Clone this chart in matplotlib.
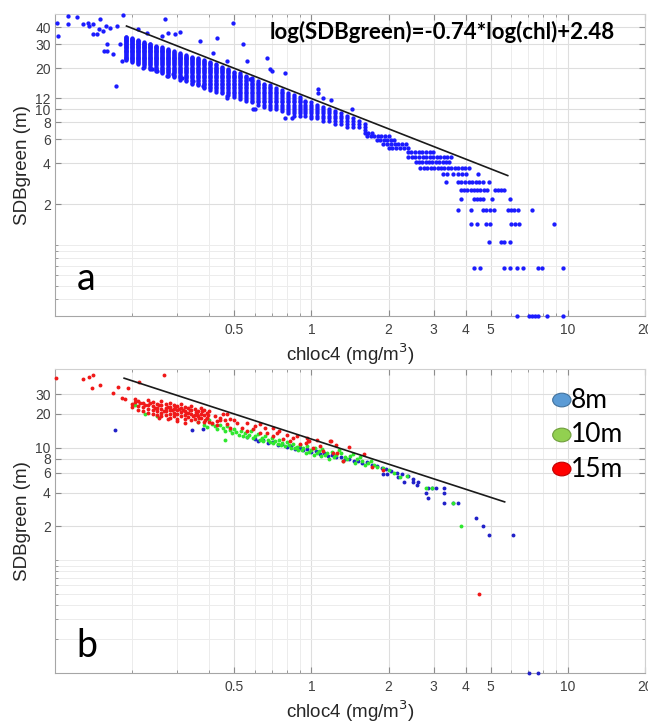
import matplotlib
matplotlib.use('Agg')
import matplotlib.pyplot as plt
from matplotlib.ticker import NullFormatter
from matplotlib.patches import Ellipse
import numpy as np

plt.rcParams['font.family'] = ['Liberation Sans', 'DejaVu Sans']

# fit shown in panel a: ln(SDB) = -0.74*ln(chl) + 2.48
fit_slope = -0.74
fit_icpt = 2.48
fit_chl_a = [0.19, 5.83]
fit_chl_b = [0.186, 5.67]

# ---------------- panel a data ----------------
# SDB values come in steps of about 0.375 m starting at 0.3 m
sdb_base = 0.3
sdb_step = 0.375

# dense part: chl columns with lowest/highest SDB seen in each column
band_chl = [0.190, 0.200, 0.211, 0.223, 0.235, 0.248, 0.262, 0.277, 0.292, 0.308,
            0.325, 0.343, 0.362, 0.382, 0.403, 0.425, 0.448, 0.473, 0.499, 0.526,
            0.555, 0.586, 0.618, 0.652, 0.688, 0.726, 0.766, 0.808, 0.852, 0.899,
            0.948, 1.000, 1.055, 1.113, 1.175, 1.240, 1.308, 1.380, 1.456, 1.536, 1.620]
band_hi = [34.4, 33.4, 32.4, 31.4, 30.4, 29.5, 28.6, 27.7, 26.9, 26.0,
           25.2, 24.5, 23.7, 23.0, 22.3, 21.4, 20.6, 19.8, 19.0, 18.3,
           17.6, 16.9, 16.2, 15.6, 15.0, 14.4, 13.9, 13.3, 12.8, 12.3,
           11.9, 11.5, 11.0, 10.6, 10.2, 9.8, 9.5, 9.1, 8.8, 8.4, 8.1]
band_lo = [22.6, 21.8, 21.0, 20.2, 19.6, 18.9, 18.2, 17.5, 16.9, 16.3,
           15.7, 15.2, 14.7, 14.1, 13.6, 13.2, 12.8, 12.4, 12.1, 11.7,
           11.3, 11.0, 10.6, 10.3, 10.0, 9.7, 9.4, 9.1, 8.9, 8.7,
           8.6, 8.4, 8.2, 8.1, 7.9, 7.8, 7.6, 7.4, 7.3, 7.1, 6.9]

# tail: runs of points on one SDB level (level, chl from, chl to)
row_sdb = [6.675, 6.3, 5.925, 5.55, 5.175, 4.8, 4.425, 4.05, 3.675, 3.3, 3.3,
           2.925, 2.925, 2.55, 2.55, 2.55, 2.175, 1.8, 1.8, 1.425, 1.425, 1.05, 0.675, 0.3]
row_chl_from = [1.62, 1.65, 1.80, 1.91, 2.00, 2.37, 2.39, 2.55, 2.66, 3.25, 3.72,
                3.72, 4.10, 3.82, 4.29, 5.20, 4.29, 4.66, 5.83, 4.78, 5.99, 5.47, 7.63, 7.04]
row_chl_to = [1.72, 2.00, 2.10, 2.33, 2.37, 2.99, 3.49, 3.45, 4.10, 3.39, 4.00,
              3.96, 4.66, 4.18, 4.85, 5.47, 4.66, 5.14, 6.38, 4.96, 6.44, 5.62, 7.91, 7.63]
row_ratio = 1.032

# isolated points
a_chl = [3.55, 4.45, 3.34, 4.91, 5.62, 3.82, 5.05, 5.93, 3.72, 4.18, 7.23, 4.18, 4.41,
         8.82, 4.91, 5.93, 4.29, 4.53, 5.62, 5.93, 6.32, 6.67, 9.56, 6.32, 8.28, 9.56,
         0.102, 0.103, 0.112, 0.122, 0.112, 0.129, 0.135, 0.136, 0.141, 0.141, 0.146, 0.150,
         0.149, 0.154, 0.158, 0.164, 0.160, 0.155, 0.160, 0.169, 0.173, 0.175, 0.184, 0.180,
         0.183, 0.211, 0.229, 0.269, 0.276, 0.294, 0.308, 0.262, 0.221, 0.239, 0.250, 0.368,
         0.429, 0.496, 0.414, 0.470, 0.542, 0.562, 0.593, 0.604, 0.673, 0.692, 0.705, 0.791,
         0.791, 0.843, 0.578, 0.470, 0.470, 0.379, 0.346, 0.313, 0.289, 0.274, 1.065, 1.065,
         1.197, 1.446, 1.114]
a_sdb = [3.3, 3.3, 2.925, 2.925, 2.55, 2.175, 2.175, 2.175, 1.8, 1.8, 1.8, 1.425, 1.425,
         1.425, 1.05, 1.05, 0.675, 0.675, 0.675, 0.675, 0.675, 0.675, 0.675, 0.3, 0.3, 0.3,
         42.9, 34.4, 48.3, 47.4, 42.2, 42.2, 42.9, 40.8, 42.2, 35.6, 35.6, 45.9,
         38.8, 37.5, 40.8, 39.5, 30.0, 26.7, 26.7, 25.4, 14.8, 40.8, 49.1, 30.0,
         22.5, 38.8, 36.2, 45.9, 36.2, 35.6, 36.8, 34.4, 20.0, 19.7, 19.0, 31.6,
         33.3, 42.9, 25.8, 22.5, 30.0, 22.5, 10.0, 10.0, 23.7, 19.7, 19.0, 18.4,
         8.6, 8.6, 16.6, 12.5, 12.1, 14.8, 16.1, 16.9, 18.1, 17.5, 14.0, 13.1,
         11.6, 10.0, 12.1]

# ---------------- panel b data ----------------
red_chl = [0.101, 0.128, 0.136, 0.141, 0.139, 0.150, 0.168, 0.176, 0.188, 0.183, 0.193, 0.212, 0.266, 0.205,
           0.20, 0.20, 0.21, 0.21, 0.21, 0.22, 0.22, 0.22, 0.23, 0.23, 0.23, 0.23, 0.24, 0.24, 0.24, 0.24,
           0.25, 0.25, 0.25, 0.25, 0.26, 0.26, 0.26, 0.26, 0.26, 0.27, 0.27, 0.27, 0.27, 0.28, 0.28, 0.28,
           0.28, 0.28, 0.29, 0.29, 0.29, 0.29, 0.30, 0.30, 0.30, 0.30, 0.31, 0.31, 0.31, 0.31, 0.32, 0.32,
           0.32, 0.32, 0.33, 0.33, 0.33, 0.34, 0.34, 0.34, 0.34, 0.35, 0.35, 0.35, 0.36, 0.36, 0.36, 0.37,
           0.37, 0.37, 0.38, 0.38, 0.38, 0.39, 0.39,
           0.205, 0.215, 0.225, 0.235, 0.245, 0.255, 0.265, 0.275, 0.285, 0.295, 0.305, 0.315, 0.325,
           0.335, 0.345, 0.355, 0.365, 0.375, 0.385, 0.395, 0.40, 0.42, 0.44, 0.45, 0.46, 0.48, 0.40,
           0.43, 0.255, 0.275, 0.30, 0.32,
           0.359, 0.393, 0.411, 0.430, 0.441, 0.470, 0.483, 0.514, 0.538, 0.562, 0.594, 0.632, 0.673, 0.710,
           0.737, 0.777, 0.828, 0.906, 0.973, 1.018, 1.084, 1.114, 1.186, 1.263, 0.470, 0.632, 0.710, 0.850,
           0.965, 1.197, 1.219, 1.333, 1.73, 1.91, 0.50, 0.56, 0.60, 0.66, 0.75, 0.80, 0.88, 0.95, 1.05,
           1.25, 1.40, 1.60, 0.98, 4.49]
red_sdb = [41.7, 40.9, 42.6, 44.3, 34.1, 36.2, 30.8, 34.8, 27.3, 27.9, 34.1, 38.5, 44.3, 27.3,
           24.5, 22.8, 26.0, 23.5, 21.5, 25.0, 23.0, 21.2, 26.5, 24.0, 22.0, 20.5, 25.5, 23.5, 21.5, 20.0,
           24.5, 22.5, 21.0, 19.5, 25.8, 23.8, 22.0, 20.5, 19.0, 24.5, 22.5, 21.0, 19.5, 25.0, 23.0, 21.5,
           20.0, 18.5, 24.0, 22.0, 20.5, 19.0, 23.5, 21.5, 20.0, 18.0, 24.5, 22.5, 20.8, 19.2, 23.0, 21.2,
           19.6, 18.0, 22.5, 20.5, 18.8, 23.5, 21.8, 20.0, 17.5, 22.0, 19.5, 18.0, 21.0, 19.0, 17.0, 22.5,
           20.0, 18.2, 21.5, 19.5, 16.8, 20.5, 18.5,
           25.5, 24.8, 24.2, 25.2, 22.6, 23.8, 21.2, 23.2, 21.8, 23.0, 22.2, 21.6, 20.2,
           21.8, 19.0, 20.6, 18.4, 21.0, 17.8, 19.4, 21.0, 19.0, 18.5, 20.0, 17.5, 18.0, 17.0,
           16.0, 18.5, 18.0, 17.2, 16.5,
           19.8, 18.3, 16.5, 17.2, 17.8, 16.2, 14.9, 16.5, 14.9, 14.1, 14.7, 13.5, 13.5, 12.7,
           13.5, 12.0, 11.5, 10.8, 11.5, 10.0, 10.4, 9.4, 11.5, 9.0, 19.8, 16.2, 14.9, 12.2,
           12.2, 11.5, 9.0, 7.7, 6.7, 6.3, 17.8, 16.6, 15.5, 15.0, 14.2, 13.0, 12.8, 11.0, 11.8,
           10.6, 10.2, 8.8, 11.5, 0.5]

green_chl = [0.205, 0.224, 0.25, 0.462,
             0.36, 0.38, 0.40, 0.41, 0.42, 0.44, 0.45, 0.47, 0.48, 0.50, 0.51, 0.53, 0.55, 0.57, 0.58,
             0.60, 0.62, 0.64, 0.66, 0.68, 0.70, 0.72, 0.75, 0.77, 0.80, 0.82, 0.85, 0.88, 0.90, 0.93,
             0.96, 1.00, 1.03, 1.07, 1.10, 1.15, 1.20, 1.25, 1.30, 1.35, 1.42, 1.50, 1.58, 1.66, 1.75,
             1.90, 2.00, 0.46, 0.52, 0.56, 0.63, 0.69, 0.74, 0.79, 0.86, 0.92, 0.98, 1.05, 1.13, 1.22,
             1.28, 1.38, 1.45, 1.55, 1.70, 1.80, 2.10, 2.35, 2.21, 2.81, 2.94, 3.55, 3.82,
             0.39, 0.43, 0.49, 0.54, 0.59, 0.65, 0.71, 0.76, 0.83, 0.89, 0.95, 1.02, 1.09, 1.17,
             1.33, 1.48, 1.62]
green_sdb = [24.2, 19.8, 19.0, 11.7,
             17.0, 16.0, 17.5, 16.2, 15.5, 16.0, 15.0, 15.5, 14.5, 14.8, 13.8, 14.2, 13.5, 13.0, 14.0,
             12.8, 13.2, 12.3, 12.8, 11.8, 12.3, 11.5, 11.8, 11.0, 11.3, 10.6, 10.9, 10.2, 10.6, 9.9,
             10.3, 9.6, 10.0, 9.3, 9.7, 9.0, 9.2, 8.6, 8.9, 8.3, 8.5, 7.9, 7.6, 7.3, 7.0,
             6.6, 6.3, 14.2, 13.0, 12.5, 11.8, 11.2, 10.8, 10.4, 10.0, 9.5, 9.2, 8.9, 8.6, 8.3,
             9.6, 7.9, 8.8, 8.2, 7.7, 6.8, 6.0, 5.6, 5.5, 4.4, 4.4, 3.2, 2.0,
             15.2, 14.8, 13.5, 12.8, 12.2, 11.5, 11.0, 10.5, 10.0, 9.6, 9.0, 8.7, 8.5, 8.0,
             7.6, 7.3, 7.0]

blue_chl = [0.171, 0.343, 0.379,
            0.56, 0.60, 0.62, 0.65, 0.68, 0.71, 0.74, 0.77, 0.80, 0.83, 0.86, 0.90, 0.93, 0.96, 1.00,
            1.04, 1.08, 1.12, 1.16, 1.20, 1.25, 1.30, 1.35, 1.40, 1.46, 1.52, 1.58, 1.65, 1.72, 1.80,
            1.88, 1.95, 2.05, 2.15, 2.25, 2.38, 2.50, 2.60,
            1.91, 1.98, 2.17, 2.29, 2.50, 2.59, 2.86, 2.94, 3.05, 3.28, 2.81, 2.84, 3.28, 3.28, 3.55,
            3.72, 4.37, 4.66, 4.91, 6.10, 7.04, 7.63]
blue_sdb = [14.4, 14.4, 14.7,
            12.5, 12.0, 11.5, 11.7, 11.0, 11.2, 10.6, 10.8, 10.2, 10.4, 9.8, 10.0, 9.5, 9.7, 9.2,
            9.3, 8.8, 9.0, 8.5, 8.7, 8.2, 8.3, 7.9, 8.0, 7.6, 7.7, 7.3, 7.4, 7.0, 6.9,
            6.6, 6.5, 6.2, 6.0, 5.8, 5.6, 5.3, 5.0,
            5.9, 5.8, 5.5, 5.0, 5.0, 4.7, 4.4, 4.4, 4.4, 4.4, 4.0, 3.6, 4.0, 3.2, 3.2,
            3.2, 2.4, 2.0, 1.67, 1.67, 0.1, 0.1]

# axis ticks
xticks = [0.5, 1, 2, 3, 4, 5, 10, 20]
xtick_labels = ['0.5', '1', '2', '3', '4', '5', '10', '20']
x_minor = [0.2, 0.3, 0.4, 0.6, 0.7, 0.8, 0.9, 6, 7, 8, 9]
yticks_a = [2, 4, 6, 8, 10, 12, 20, 30, 40]
yticks_b = [2, 4, 6, 8, 10, 20, 30]
y_minor_a = [0.3, 0.4, 0.5, 0.6, 0.7, 0.8, 0.9, 1]
y_minor_b = [0.2, 0.3, 0.4, 0.5, 0.6, 0.7, 0.8, 0.9, 1]


def column_points(cols, lo, hi):
    xs, ys = [], []
    for c, l, h in zip(cols, lo, hi):
        k0 = int(np.ceil((l - sdb_base) / sdb_step))
        k1 = int(np.floor((h - sdb_base) / sdb_step))
        for k in range(k0, k1 + 1):
            xs.append(c)
            ys.append(sdb_base + k * sdb_step)
    return xs, ys


def row_points(levels, c_from, c_to):
    xs, ys = [], []
    for s, a, b in zip(levels, c_from, c_to):
        n = int(round(np.log(b / a) / np.log(row_ratio))) + 1
        for c in np.geomspace(a, b, max(n, 1)):
            xs.append(c)
            ys.append(s)
    return xs, ys


def fit_line(chl):
    chl = np.array(chl)
    return np.exp(fit_slope * np.log(chl) + fit_icpt)


def style_axes(ax, yticks, y_minor, ylim):
    ax.set_xscale('log')
    ax.set_yscale('log')
    ax.set_xlim(0.1, 20)
    ax.set_ylim(*ylim)
    ax.set_xticks(xticks)
    ax.set_xticklabels(xtick_labels)
    ax.set_xticks(x_minor, minor=True)
    ax.set_yticks(yticks)
    ax.set_yticklabels([str(t) for t in yticks])
    ax.set_yticks(y_minor, minor=True)
    ax.xaxis.set_minor_formatter(NullFormatter())
    ax.yaxis.set_minor_formatter(NullFormatter())
    ax.tick_params(which='both', direction='in', top=True, right=True,
                   colors='#8c8c8c', labelcolor='#404040', labelsize=10)
    ax.tick_params(which='major', length=4, width=0.8)
    ax.tick_params(which='minor', length=2.5, width=0.6)
    ax.tick_params(axis='x', pad=5)
    ax.tick_params(axis='y', pad=3)
    ax.grid(True, which='major', color='#dedede', lw=0.8)
    ax.grid(True, which='minor', color='#ececec', lw=0.7)
    ax.set_axisbelow(True)
    for side in ['left', 'bottom']:
        ax.spines[side].set_color('#a6a6a6')
    for side in ['top', 'right']:
        ax.spines[side].set_color('#d0d0d0')
    ax.set_xlabel('chloc4 (mg/m$^3$)', fontsize=13.5, color='#262626')
    ax.set_ylabel('SDBgreen (m)', fontsize=13.5, color='#262626')
    ax.xaxis.set_label_coords(0.5, -0.085)
    ax.yaxis.set_label_coords(-0.04, 0.5)


fig = plt.figure(figsize=(6.48, 7.24), dpi=100)
ax1 = fig.add_axes([0.0849, 0.5635, 0.9105, 0.4171])
ax2 = fig.add_axes([0.0849, 0.0704, 0.9105, 0.4199])

# panel a
bx, by = column_points(band_chl, band_lo, band_hi)
rx, ry = row_points(row_sdb, row_chl_from, row_chl_to)
all_x = bx + rx + a_chl
all_y = by + ry + a_sdb
ax1.plot(all_x, all_y, 'o', ms=3.1, color='#1c1cff', mec='none', clip_on=False, zorder=3)
ax1.plot(fit_chl_a, fit_line(fit_chl_a), color='#1a1a1a', lw=1.2, zorder=4)
style_axes(ax1, yticks_a, y_minor_a, (0.3, 50))
ax1.text(0.364, 0.94, 'log(SDBgreen)=-0.74*log(chl)+2.48', transform=ax1.transAxes,
         fontsize=16, fontweight='bold', family=['Lato', 'DejaVu Sans'], va='center', ha='left')
ax1.text(0.037, 0.086, 'a', transform=ax1.transAxes, fontsize=27,
         family=['Lato', 'DejaVu Sans'], va='baseline', ha='left')

# panel b
ax2.plot(blue_chl, blue_sdb, 'o', ms=2.8, color='#2020c8', mec='none', clip_on=False, zorder=3)
ax2.plot(green_chl, green_sdb, 'o', ms=2.8, color='#2ee82e', mec='none', clip_on=False, zorder=3)
ax2.plot(red_chl, red_sdb, 'o', ms=2.8, color='#f01818', mec='none', clip_on=False, zorder=3)
ax2.plot(fit_chl_b, fit_line(fit_chl_b), color='#1a1a1a', lw=1.2, zorder=4)
style_axes(ax2, yticks_b, y_minor_b, (0.1, 50))
ax2.text(0.037, 0.053, 'b', transform=ax2.transAxes, fontsize=27,
         family=['Lato', 'DejaVu Sans'], va='baseline', ha='left')

# legend drawn by hand like the pasted one in the original
legend_names = ['8m', '10m', '15m']
legend_face = ['#5b9bd5', '#92d050', '#ff0000']
legend_edge = ['#41719c', '#6f9e3c', '#c00000']
legend_y = [0.898, 0.783, 0.671]
for name, fc, ec, y in zip(legend_names, legend_face, legend_edge, legend_y):
    ax2.add_patch(Ellipse((0.859, y), 0.031, 0.045, transform=ax2.transAxes,
                          facecolor=fc, edgecolor=ec, lw=0.8, zorder=5))
    ax2.text(0.874, y, name, transform=ax2.transAxes, fontsize=19,
             family=['Lato', 'DejaVu Sans'], va='center', ha='left', zorder=5)

fig.savefig('out.png', dpi=100)
